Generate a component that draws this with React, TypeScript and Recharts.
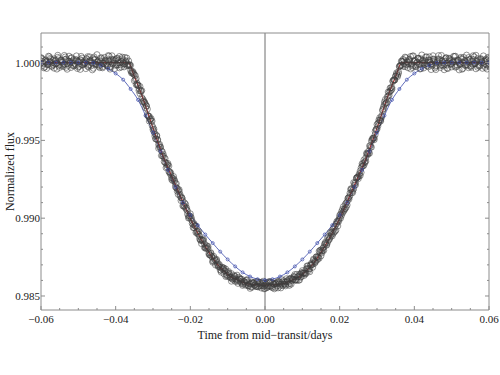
import React from 'react';
import { ComposedChart, XAxis, YAxis, Scatter, Line, ReferenceLine } from 'recharts';

// observed light curves, one point per cadence from each visit's start time
const obsCadence = 0.0005;

const visitAStart = -0.06;
const visitAFlux = [
  1.00032, 0.99981, 1.00012, 0.99962, 1.00041, 1.00005, 0.99978, 1.00024, 0.99991, 1.00047,
  0.99969, 1.00015, 0.99988, 1.00036, 0.99957, 1.00009, 1.00028, 0.99983, 0.99995, 1.00043,
  0.99972, 1.00019, 0.99986, 1.00003, 0.99961, 1.00038, 1.00011, 0.99979, 1.00026, 0.99993,
  1.00051, 0.99975, 1.00007, 0.99966, 1.00033, 0.99989, 1.00017, 0.99958, 1.00044, 0.99998,
  1.00021, 0.99984, 1.00039, 0.99971, 1.00013, 0.99992, 1.00029,
  1.0001, 0.99949, 0.99944, 0.99883, 0.99896, 0.99853, 0.99801, 0.9982, 0.99749, 0.99732,
  0.99662, 0.99655, 0.9964, 0.99569, 0.99542, 0.99528, 0.99449, 0.99454, 0.99427, 0.99363,
  0.99355, 0.99352, 0.9929, 0.99249, 0.99254, 0.99221, 0.99173, 0.99183, 0.99131, 0.99079,
  0.99097, 0.99054, 0.99013, 0.99028, 0.98966, 0.98965, 0.98908, 0.98912, 0.98884, 0.98836,
  0.98857, 0.98815, 0.98822, 0.98767, 0.98773, 0.98717, 0.98741, 0.98736, 0.98691, 0.98667,
  0.98676, 0.9868, 0.98625, 0.98648, 0.9862, 0.98644, 0.98614, 0.98594, 0.98634, 0.98596,
  0.98607, 0.98568, 0.98591, 0.98598, 0.98564, 0.98549, 0.9859, 0.98582, 0.98561, 0.98592,
  0.98565, 0.98551, 0.98595, 0.98567,
  0.98553, 0.98592, 0.98563, 0.98584, 0.98546, 0.98577, 0.98594, 0.98564, 0.98605, 0.98577,
  0.98565, 0.98599, 0.98611, 0.98576, 0.98606, 0.98638, 0.986, 0.98626, 0.98621, 0.98663,
  0.98632, 0.98671, 0.98676, 0.98656, 0.98712, 0.9873, 0.98723, 0.98732, 0.98788, 0.98758,
  0.98807, 0.98837, 0.9883, 0.98858, 0.98909, 0.98886, 0.9894, 0.98923, 0.9898, 0.99018,
  0.99018, 0.99074, 0.99062, 0.99107, 0.99122, 0.99189, 0.99165, 0.99223, 0.99258, 0.99266,
  0.99273, 0.99335, 0.99374, 0.99366, 0.99416, 0.99417, 0.99497, 0.99516, 0.99536, 0.99602,
  0.99614, 0.99632, 0.99698, 0.99747, 0.99743, 0.99784, 0.99836, 0.99829, 0.99889, 0.99914,
  0.9991, 0.99974, 1.00009,
  0.99976, 1.00035, 0.9999, 1.00018, 0.99959, 1.00042, 1.00006, 0.99973, 1.00027, 0.99987,
  1.00049, 0.99965, 1.00014, 0.99996, 1.00037, 0.99955, 1.00022, 1.00002, 0.9998, 1.00045,
  0.99968, 1.0001, 0.99985, 1.00031, 0.99962, 1.00024, 0.99994, 1.0004, 0.9997, 1.00016,
  0.99953, 1.00034, 1.00001, 0.99982, 1.00048, 0.99967, 1.0002, 0.9999, 1.00037, 0.9996,
  1.00025, 0.99977, 1.00008, 1.00043, 0.99969, 1.00014, 0.99987,
];

const visitBStart = -0.05975;
const visitBFlux = [
  1.00008, 0.99994, 1.00017, 0.99989, 1.00002, 1.00021, 0.99986, 1.00011, 0.99997, 0.99979,
  1.00014, 1.00004, 0.99991, 1.00023, 0.99982, 1.00006, 0.99999, 1.00019, 0.99987, 1.00009,
  0.99976, 1.00013, 1.00001, 0.99993, 1.00026, 0.99984, 1.00007, 0.99996, 1.00016, 0.99988,
  1.00003, 0.99981, 1.00018, 0.99995, 1.00012, 0.99978, 1.00005, 1.00022, 0.99992, 1.0001,
  0.99985, 1.00015, 0.99998, 1.00024, 0.9999, 1.00004, 0.99983,
  0.99982, 0.99941, 0.99936, 0.99891, 0.99866, 0.9982, 0.99815, 0.99766, 0.99741, 0.9972,
  0.99656, 0.99638, 0.99596, 0.99572, 0.9951, 0.99505, 0.99456, 0.99433, 0.99411, 0.99357,
  0.99341, 0.99299, 0.99292, 0.99256, 0.99245, 0.99194, 0.99181, 0.99144, 0.99131, 0.99076,
  0.99064, 0.99047, 0.99002, 0.98993, 0.98958, 0.98954, 0.98908, 0.98897, 0.98858, 0.9886,
  0.98836, 0.98806, 0.98803, 0.98765, 0.98755, 0.98725, 0.98727, 0.98702, 0.98703, 0.98664,
  0.98671, 0.98662, 0.98635, 0.98649, 0.98622, 0.9861, 0.98625, 0.98602, 0.98605, 0.98614,
  0.98582, 0.98593, 0.98582, 0.98588, 0.98564, 0.98579, 0.98584, 0.98568, 0.98563, 0.98578,
  0.98584, 0.98568, 0.98563, 0.98574,
  0.98565, 0.98582, 0.98557, 0.98575, 0.98581, 0.98565, 0.98592, 0.98575, 0.98567, 0.98589,
  0.98589, 0.98576, 0.98608, 0.98599, 0.98621, 0.98605, 0.98623, 0.9864, 0.98624, 0.98647,
  0.98649, 0.98679, 0.98664, 0.98699, 0.98704, 0.98709, 0.98751, 0.98751, 0.98781, 0.98777,
  0.98814, 0.98847, 0.98843, 0.98871, 0.98905, 0.98901, 0.98947, 0.98966, 0.98979, 0.99026,
  0.99033, 0.99052, 0.99098, 0.99129, 0.99145, 0.99189, 0.99188, 0.9923, 0.99264, 0.99276,
  0.99324, 0.99335, 0.99356, 0.99413, 0.99431, 0.99456, 0.99503, 0.99515, 0.99568, 0.99609,
  0.9963, 0.99658, 0.99717, 0.99737, 0.99781, 0.9979, 0.99839, 0.99877, 0.99888, 0.99926,
  0.99941, 0.99982, 1.00005,
  1.00012, 0.99987, 1.00004, 1.00021, 0.99993, 0.99978, 1.00015, 1.00002, 0.99989, 1.00024,
  0.99996, 1.00009, 0.99982, 1.00017, 1.00001, 0.99991, 1.00013, 0.99976, 1.00006, 1.00019,
  0.99986, 0.99999, 1.00025, 0.99984, 1.00008, 0.99994, 1.00016, 0.9998, 1.00003, 1.00011,
  0.99988, 1.00022, 0.99997, 0.99983, 1.00014, 1.00005, 0.99979, 1.0002, 0.99992, 1.00007,
  0.99985, 1.00018, 1.00001, 0.99995, 1.00023, 0.99981, 1.0001,
];

const visitCStart = -0.06;
const visitCFlux = [
  0.99995, 1.00019, 0.99971, 1.00006, 0.99988, 1.00027, 0.99999, 0.99964, 1.00013, 1.00034,
  0.99985, 1.00002, 0.99974, 1.0002, 0.99993, 1.00041, 0.99968, 1.00009, 0.9998, 1.00016,
  1.00003, 0.99956, 1.00029, 0.99991, 1.00012, 0.99977, 1.00037, 0.99997, 0.99963, 1.00022,
  1.00005, 0.99986, 1.00031, 0.99973, 1.00011, 0.99994, 1.00045, 0.9997, 1.00001, 1.00018,
  0.99982, 1.00027, 0.99966, 1.00008, 0.99996, 1.00033, 0.99979,
  0.99981, 0.99982, 0.99933, 0.99922, 0.99858, 0.99855, 0.99847, 0.99775, 0.99756, 0.9971,
  0.99701, 0.99624, 0.99624, 0.99583, 0.99527, 0.99532, 0.99473, 0.99459, 0.99401, 0.99387,
  0.99324, 0.99343, 0.99298, 0.99261, 0.99268, 0.99201, 0.99192, 0.99171, 0.99113, 0.99113,
  0.99076, 0.99067, 0.99001, 0.99013, 0.98981, 0.98939, 0.98949, 0.98898, 0.98867, 0.98862,
  0.98866, 0.98807, 0.9881, 0.98776, 0.98778, 0.98724, 0.98733, 0.98729, 0.9869, 0.98684,
  0.98685, 0.98643, 0.98673, 0.98634, 0.98639, 0.98595, 0.98618, 0.98626, 0.98594, 0.9862,
  0.98592, 0.98576, 0.98592, 0.98604, 0.98569, 0.98577, 0.98556, 0.98586, 0.98576, 0.98559,
  0.98589, 0.98565, 0.9858, 0.98548,
  0.98584, 0.98564, 0.98592, 0.98554, 0.98575, 0.98582, 0.98552, 0.98587, 0.98577, 0.98598,
  0.98573, 0.98596, 0.98568, 0.98615, 0.98607, 0.98602, 0.98639, 0.98601, 0.98637, 0.98652,
  0.98646, 0.98645, 0.98693, 0.98676, 0.98699, 0.98737, 0.98717, 0.9875, 0.98742, 0.98796,
  0.98794, 0.9883, 0.98826, 0.98883, 0.98881, 0.98913, 0.9891, 0.98963, 0.9895, 0.99004,
  0.99042, 0.99043, 0.99089, 0.99085, 0.99134, 0.99182, 0.99178, 0.99212, 0.99257, 0.99254,
  0.99304, 0.9935, 0.9934, 0.99389, 0.99408, 0.99464, 0.99456, 0.99512, 0.99557, 0.99572,
  0.99631, 0.99624, 0.9969, 0.9973, 0.9974, 0.99811, 0.99816, 0.99839, 0.99888, 0.99913,
  0.99918, 0.99976, 0.99982,
  1.00021, 0.99974, 1.00004, 0.99993, 1.00039, 0.99968, 1.00012, 0.99986, 1.00028, 0.99959,
  1.00007, 0.99997, 1.00035, 0.99978, 1.00015, 0.99989, 1.00044, 0.99965, 1.00002, 1.00024,
  0.99981, 1.00011, 0.99954, 1.0003, 0.99995, 1.00017, 0.99972, 1.00006, 1.00041, 0.99984,
  0.99999, 1.00026, 0.99962, 1.00013, 0.99987, 1.00032, 0.99976, 1.00009, 0.99991, 1.00047,
  0.99969, 1.00003, 1.0002, 0.99983, 1.00014, 0.99958, 1.00027,
];

const visitDStart = -0.05975;
const visitDFlux = [
  1.00027, 0.99966, 1.00003, 0.99987, 1.00038, 0.99975, 1.00014, 0.99992, 0.99958, 1.00025,
  1.00008, 0.99981, 1.00046, 0.99969, 1.00011, 0.99996, 1.00032, 0.99978, 1.00019, 0.99962,
  1.00005, 1.0004, 0.99984, 0.99999, 1.00023, 0.99971, 1.00015, 0.99953, 1.00036, 0.99988,
  1.0001, 0.99967, 1.00029, 0.99994, 1.00004, 0.9998, 1.00042, 0.99975, 1.00017, 0.99961,
  1.00026, 0.99998, 0.99985, 1.00035, 0.99972, 1.00012, 0.99989,
  0.99987, 0.99933, 0.99927, 0.99917, 0.99856, 0.99833, 0.9982, 0.99749, 0.99745, 0.99722,
  0.99655, 0.99634, 0.99624, 0.99557, 0.99509, 0.99502, 0.99475, 0.99402, 0.994, 0.99384,
  0.99329, 0.99335, 0.9928, 0.99242, 0.99238, 0.99222, 0.99153, 0.99153, 0.99131, 0.99084,
  0.99089, 0.99026, 0.99015, 0.99004, 0.9894, 0.98949, 0.98916, 0.98915, 0.98858, 0.98855,
  0.98812, 0.98823, 0.98817, 0.98763, 0.98751, 0.98755, 0.98699, 0.98715, 0.98696, 0.98653,
  0.98681, 0.98662, 0.98629, 0.98657, 0.9862, 0.98607, 0.98632, 0.98609, 0.98581, 0.98607,
  0.98608, 0.98581, 0.9857, 0.98603, 0.9858, 0.98559, 0.98584, 0.98571, 0.98592, 0.98559,
  0.98577, 0.98586, 0.98546, 0.98578,
  0.98558, 0.98591, 0.98567, 0.98581, 0.98554, 0.98588, 0.98578, 0.98552, 0.9859, 0.98576,
  0.98611, 0.9859, 0.98582, 0.98611, 0.98626, 0.98603, 0.98623, 0.98603, 0.98648, 0.98646,
  0.98641, 0.98693, 0.98673, 0.98702, 0.98684, 0.98723, 0.98752, 0.98743, 0.98793, 0.98788,
  0.98793, 0.98837, 0.98874, 0.98864, 0.98893, 0.98929, 0.98916, 0.98979, 0.98991, 0.99,
  0.99057, 0.99059, 0.99071, 0.99128, 0.99161, 0.99165, 0.99229, 0.99214, 0.99263, 0.99286,
  0.99294, 0.9935, 0.99364, 0.99419, 0.99417, 0.99467, 0.99511, 0.99504, 0.99571, 0.99592,
  0.99646, 0.99649, 0.99704, 0.99763, 0.99763, 0.99808, 0.99821, 0.99883, 0.99888, 0.99934,
  0.9993, 0.9998, 1.0001,
  0.99993, 1.00031, 0.99967, 1.00009, 0.99984, 1.00043, 0.99976, 1.00002, 1.00025, 0.9996,
  1.00014, 0.9999, 1.00037, 0.99972, 1.00006, 0.99981, 1.00022, 0.99955, 1.00018, 0.99997,
  1.00046, 0.99979, 1.0001, 0.99964, 1.00028, 0.99988, 1.00003, 1.00039, 0.99974, 1.00016,
  0.99992, 0.99957, 1.00033, 1.00007, 0.99982, 1.00021, 0.99969, 1.00044, 0.99995, 1.00012,
  0.99978, 1.00026, 0.99963, 1.00008, 0.99986, 1.00034, 0.99971,
];

// best-fit transit model (red)
const fitTime = [
  -0.06, -0.0366, -0.035, -0.033, -0.031, -0.029, -0.027, -0.025, -0.023, -0.021, -0.019,
  -0.017, -0.015, -0.013, -0.011, -0.009, -0.007, -0.005, -0.003, 0,
  0.003, 0.005, 0.007, 0.009, 0.011, 0.013, 0.015, 0.017, 0.019, 0.021, 0.023, 0.025,
  0.027, 0.029, 0.031, 0.033, 0.035, 0.0366, 0.06,
];
const fitFlux = [
  1.0, 1.0, 0.9991, 0.9979, 0.9965, 0.9951, 0.9938, 0.9927, 0.9916, 0.9905, 0.9895,
  0.9886, 0.9878, 0.9871, 0.9866, 0.9862, 0.986, 0.9858, 0.98573, 0.9857,
  0.98573, 0.9858, 0.986, 0.9862, 0.9866, 0.9871, 0.9878, 0.9886, 0.9895, 0.9905, 0.9916, 0.9927,
  0.9938, 0.9951, 0.9965, 0.9979, 0.9991, 1.0, 1.0,
];

// alternative model (blue)
const altTime = [
  -0.06, -0.058, -0.056, -0.054, -0.052, -0.05, -0.048, -0.046, -0.044, -0.042, -0.04,
  -0.038, -0.036, -0.034, -0.032, -0.03, -0.028, -0.026, -0.024, -0.022, -0.02, -0.018,
  -0.016, -0.014, -0.012, -0.01, -0.008, -0.006, -0.004, -0.002, 0,
  0.002, 0.004, 0.006, 0.008, 0.01, 0.012, 0.014, 0.016, 0.018, 0.02, 0.022, 0.024,
  0.026, 0.028, 0.03, 0.032, 0.034, 0.036, 0.038, 0.04, 0.042, 0.044, 0.046, 0.048,
  0.05, 0.052, 0.054, 0.056, 0.058, 0.06,
];
const altFlux = [
  1.0, 1.0, 1.0, 1.0, 1.0, 1.0, 1.0, 0.99998, 0.99982, 0.9996, 0.9993,
  0.9989, 0.9983, 0.9976, 0.9966, 0.9955, 0.9943, 0.9931, 0.992, 0.991, 0.9902, 0.98955,
  0.98895, 0.9884, 0.98785, 0.98735, 0.9869, 0.98652, 0.98625, 0.98608, 0.98602,
  0.98608, 0.98625, 0.98652, 0.9869, 0.98735, 0.98785, 0.9884, 0.98895, 0.98955, 0.9902, 0.991, 0.992,
  0.9931, 0.9943, 0.9955, 0.9966, 0.9976, 0.9983, 0.9989, 0.9993, 0.9996, 0.99982, 0.99998, 1.0,
  1.0, 1.0, 1.0, 1.0, 1.0, 1.0,
];

const xTicks = [
  -0.06, -0.055, -0.05, -0.045, -0.04, -0.035, -0.03, -0.025, -0.02, -0.015, -0.01, -0.005, 0,
  0.005, 0.01, 0.015, 0.02, 0.025, 0.03, 0.035, 0.04, 0.045, 0.05, 0.055, 0.06,
];
const xLabelTicks = [-0.06, -0.04, -0.02, 0, 0.02, 0.04, 0.06];
const yTicks = [
  0.985, 0.986, 0.987, 0.988, 0.989, 0.99, 0.991, 0.992, 0.993, 0.994, 0.995,
  0.996, 0.997, 0.998, 0.999, 1.0, 1.001,
];
const yLabelTicks = [0.985, 0.99, 0.995, 1.0];

const toPoints = (start: number, flux: number[]) =>
  flux.map((f, i) => ({ t: start + i * obsCadence, f }));

const obsData = [
  ...toPoints(visitAStart, visitAFlux),
  ...toPoints(visitBStart, visitBFlux),
  ...toPoints(visitCStart, visitCFlux),
  ...toPoints(visitDStart, visitDFlux),
];
const fitData = fitTime.map((t, i) => ({ t, f: fitFlux[i] }));
const altData = altTime.map((t, i) => ({ t, f: altFlux[i] }));

const FONT = '"Liberation Serif", "Times New Roman", serif';
const FRAME = '#8c8c8c';
const GAP = 8;

const inList = (v: number, list: number[]) => list.some(l => Math.abs(l - v) < 1e-9);
const fmtX = (v: number) => (v < -1e-9 ? '\u2212' : '') + Math.abs(v).toFixed(2);

const BottomTick = ({ x, y, payload }: any) => {
  const ay = y - GAP;
  const major = inList(payload.value, xLabelTicks);
  return (
    <g>
      <line x1={x} x2={x} y1={ay} y2={ay - (major ? 4 : 2)} stroke={FRAME} />
      {major && (
        <text x={x} y={ay + 13} textAnchor="middle" fontSize={11} fill="#222" fontFamily={FONT}>
          {fmtX(payload.value)}
        </text>
      )}
    </g>
  );
};

const TopTick = ({ x, y, payload }: any) => {
  const ay = y + GAP;
  const major = inList(payload.value, xLabelTicks);
  return <line x1={x} x2={x} y1={ay} y2={ay + (major ? 4 : 2)} stroke={FRAME} />;
};

const LeftTick = ({ x, y, payload }: any) => {
  const ax = x + GAP;
  const major = inList(payload.value, yLabelTicks);
  return (
    <g>
      <line x1={ax} x2={ax + (major ? 4 : 2)} y1={y} y2={y} stroke={FRAME} />
      {major && (
        <text x={ax - 1} y={y + 4} textAnchor="end" fontSize={11} fill="#222" fontFamily={FONT}>
          {payload.value.toFixed(3)}
        </text>
      )}
    </g>
  );
};

const RightTick = ({ x, y, payload }: any) => {
  const ax = x - GAP;
  const major = inList(payload.value, yLabelTicks);
  return <line x1={ax} x2={ax - (major ? 4 : 2)} y1={y} y2={y} stroke={FRAME} />;
};

const ObsDot = ({ cx, cy }: any) => (
  <circle cx={cx} cy={cy} r={3} fill="none" stroke="#3d3d3d" strokeWidth={0.55} />
);

export default function App() {
  return (
    <div style={{ position: 'absolute', left: 0, top: 0, background: '#fff' }}>
      <ComposedChart width={500} height={375} margin={{ top: 0, right: 0, bottom: 0, left: 0 }}>
        <XAxis
          xAxisId="b"
          type="number"
          dataKey="t"
          domain={[-0.06, 0.06]}
          allowDataOverflow
          ticks={xTicks}
          interval={0}
          height={65}
          tickSize={0}
          tickMargin={GAP}
          tickLine={false}
          axisLine={{ stroke: FRAME }}
          tick={<BottomTick />}
          label={{
            value: 'Time from mid\u2212transit/days',
            position: 'insideBottom',
            offset: 36,
            style: { fontFamily: FONT, fontSize: 12, fill: '#222' },
          }}
        />
        <XAxis
          xAxisId="top"
          orientation="top"
          type="number"
          domain={[-0.06, 0.06]}
          allowDataOverflow
          ticks={xTicks}
          interval={0}
          height={33}
          tickSize={0}
          tickMargin={GAP}
          tickLine={false}
          axisLine={{ stroke: FRAME }}
          tick={<TopTick />}
        />
        <YAxis
          yAxisId="l"
          type="number"
          dataKey="f"
          domain={[0.9841, 1.0019]}
          allowDataOverflow
          ticks={yTicks}
          interval={0}
          width={41}
          tickSize={0}
          tickMargin={GAP}
          tickLine={false}
          axisLine={{ stroke: FRAME }}
          tick={<LeftTick />}
          label={{
            value: 'Normalized flux',
            angle: -90,
            position: 'insideLeft',
            offset: 10,
            style: { textAnchor: 'middle', fontFamily: FONT, fontSize: 12, fill: '#222' },
          }}
        />
        <YAxis
          yAxisId="r"
          orientation="right"
          type="number"
          domain={[0.9841, 1.0019]}
          allowDataOverflow
          ticks={yTicks}
          interval={0}
          width={11}
          tickSize={0}
          tickMargin={GAP}
          tickLine={false}
          axisLine={{ stroke: FRAME }}
          tick={<RightTick />}
        />
        <ReferenceLine xAxisId="b" yAxisId="l" x={0} stroke="#6e6e6e" strokeWidth={1} />
        <Scatter
          xAxisId="b"
          yAxisId="l"
          data={obsData}
          dataKey="f"
          shape={<ObsDot />}
          isAnimationActive={false}
        />
        <Line
          xAxisId="b"
          yAxisId="l"
          data={altData}
          dataKey="f"
          type="monotone"
          stroke="#3848a8"
          strokeWidth={0.8}
          dot={{ r: 1.5, stroke: '#3848a8', strokeWidth: 0.7, fill: 'none' }}
          activeDot={false}
          isAnimationActive={false}
        />
        <Line
          xAxisId="b"
          yAxisId="l"
          data={fitData}
          dataKey="f"
          type="monotone"
          stroke="#9a3434"
          strokeWidth={1.3}
          dot={false}
          activeDot={false}
          isAnimationActive={false}
        />
      </ComposedChart>
    </div>
  );
}
